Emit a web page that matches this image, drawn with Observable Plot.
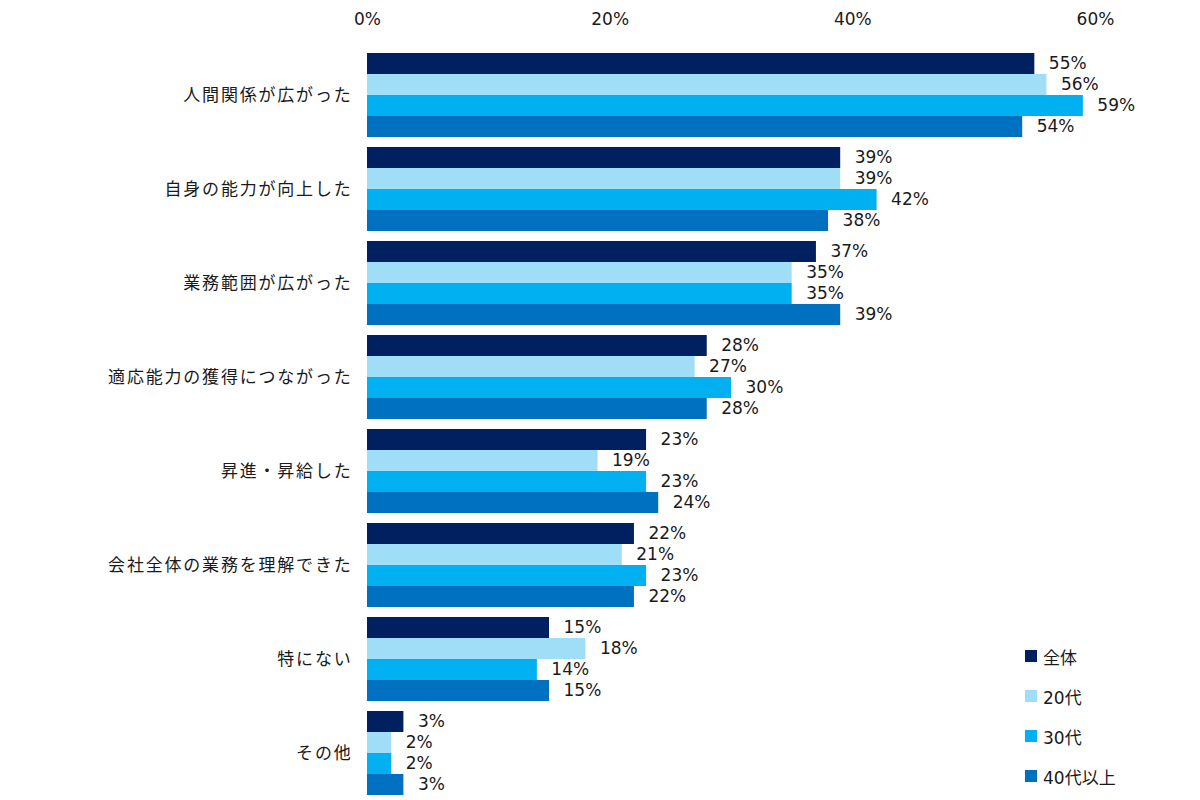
<!DOCTYPE html>
<html>
<head>
<meta charset="utf-8">
<script src="https://cdn.jsdelivr.net/npm/d3@7"></script>
<script src="https://cdn.jsdelivr.net/npm/@observablehq/plot@0.6"></script>
<style>
  html, body { margin: 0; padding: 0; background: #fff; }
  #wrap { position: relative; width: 1200px; height: 800px; font-family: "DejaVu Sans", "Noto Sans CJK JP", sans-serif; }
  #legend { position: absolute; left: 1025px; top: 646px; font-size: 17px; color: #1a1a1a; }
  .item { display: flex; align-items: center; height: 20px; margin-bottom: 20px; }
  .sw { width: 12px; height: 12px; margin-right: 6px; }
  g[aria-label="fy-axis tick label"] text { letter-spacing: 1.8px; }
</style>
</head>
<body>
<div id="wrap"><div id="legend"></div></div>
<script>
const categories = [
  "人間関係が広がった",
  "自身の能力が向上した",
  "業務範囲が広がった",
  "適応能力の獲得につながった",
  "昇進・昇給した",
  "会社全体の業務を理解できた",
  "特にない",
  "その他"
];
const seriesNames = ["全体", "20代", "30代", "40代以上"];
const seriesColors = ["#002060", "#A0DEF8", "#00B0F0", "#0070C0"];
const valuesAll = [55, 39, 37, 28, 23, 22, 15, 3];
const values20s = [56, 39, 35, 27, 19, 21, 18, 2];
const values30s = [59, 42, 35, 30, 23, 23, 14, 2];
const values40s = [54, 38, 39, 28, 24, 22, 15, 3];
const xTicks = [0, 20, 40, 60];

const seriesValues = [valuesAll, values20s, values30s, values40s];
const data = categories.flatMap((c, i) =>
  seriesNames.map((s, j) => ({category: c, series: s, value: seriesValues[j][i]}))
);

const chart = Plot.plot({
  width: 1200,
  height: 800,
  marginLeft: 367,
  marginRight: 105,
  marginTop: 48,
  marginBottom: 0,
  style: {fontFamily: '"DejaVu Sans", "Noto Sans CJK JP", sans-serif', fontSize: "17px", color: "#1a1a1a", background: "transparent"},
  x: {domain: [0, 60], ticks: xTicks, tickFormat: d => d + "%", axis: "top", label: null, tickSize: 0, tickPadding: 29},
  fy: {domain: categories, paddingInner: 0.106, paddingOuter: 0.053, label: null, axis: "left", tickSize: 0, tickPadding: 15},
  y: {domain: seriesNames, axis: null, padding: 0},
  color: {domain: seriesNames, range: seriesColors},
  marks: [
    Plot.barX(data, {fy: "category", y: "series", x: "value", fill: "series"}),
    Plot.text(data, {fy: "category", y: "series", x: "value", text: d => d.value + "%", textAnchor: "start", dx: 14, fill: "#1a1a1a"})
  ]
});
const wrap = document.getElementById("wrap");
wrap.insertBefore(chart, wrap.firstChild);
// widen spacing of the category labels to match the reference
chart.querySelectorAll('[aria-label="fy-axis tick label"] text').forEach(t => t.setAttribute("letter-spacing", "1.8"));

const legend = document.getElementById("legend");
seriesNames.forEach((s, i) => {
  const it = document.createElement("div");
  it.className = "item";
  const sw = document.createElement("div");
  sw.className = "sw";
  sw.style.background = seriesColors[i];
  const t = document.createElement("span");
  t.textContent = s;
  it.appendChild(sw);
  it.appendChild(t);
  legend.appendChild(it);
});
</script>
</body>
</html>
